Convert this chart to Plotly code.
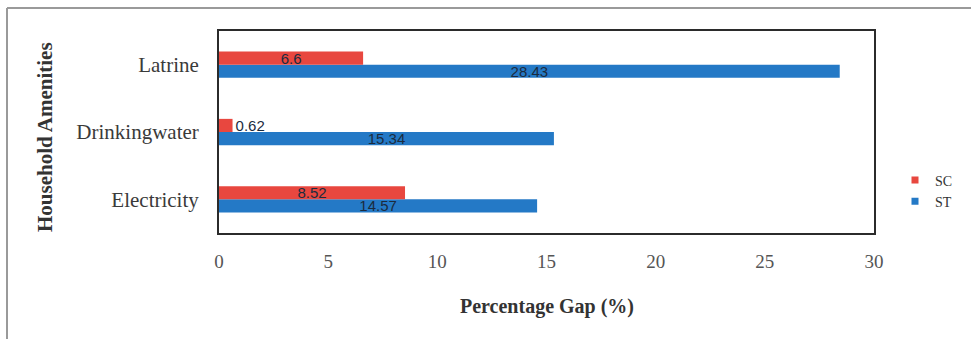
import plotly.graph_objects as go

# Household amenities and percentage gaps for SC and ST households
amenities = ["Electricity", "Drinkingwater", "Latrine"]
sc_gap = [8.52, 0.62, 6.6]
st_gap = [14.57, 15.34, 28.43]
x_ticks = [0, 5, 10, 15, 20, 25, 30]

SC_COLOR = "#E8473F"
ST_COLOR = "#2479C6"
SERIF = "Liberation Serif, Times New Roman, serif"
LABEL_FONT = dict(family="Liberation Sans, Arial, sans-serif", size=15, color="#1B2B3E")


def label_positions(values, limit=2):
    return ["outside" if v < limit else "inside" for v in values]


fig = go.Figure()
fig.add_trace(go.Bar(
    y=amenities, x=st_gap, orientation="h", name="ST", showlegend=False,
    marker=dict(color=ST_COLOR, line=dict(width=0)),
    text=[f"{v:g}" for v in st_gap], textposition=label_positions(st_gap),
    insidetextanchor="middle", textfont=LABEL_FONT, constraintext="none",
    cliponaxis=False,
))
fig.add_trace(go.Bar(
    y=amenities, x=sc_gap, orientation="h", name="SC", showlegend=False,
    marker=dict(color=SC_COLOR, line=dict(width=0)),
    text=[f"{v:g}" for v in sc_gap], textposition=label_positions(sc_gap),
    insidetextanchor="middle", textfont=LABEL_FONT, constraintext="none",
    cliponaxis=False,
))

# Small square legend keys
for name, color in (("SC", SC_COLOR), ("ST", ST_COLOR)):
    fig.add_trace(go.Scatter(
        x=[None], y=[None], mode="markers", name=name,
        marker=dict(symbol="square", size=7, color=color),
    ))

L, R, T, B = 219, 97, 31, 106
W, H = 971, 339
pw, ph = W - L - R, H - T - B


def px_x(p):
    return (p - L) / pw


def px_y(p):
    return (H - B - p) / ph


fig.update_layout(
    width=W, height=H,
    margin=dict(l=L, r=R, t=T, b=B, pad=0, autoexpand=False),
    paper_bgcolor="white", plot_bgcolor="white",
    barmode="group", bargap=0.61, bargroupgap=0,
    showlegend=True,
    legend=dict(
        x=px_x(895), y=px_y(191), xanchor="left", yanchor="middle",
        font=dict(family=SERIF, size=14, color="#333333"),
        itemwidth=30, tracegroupgap=0, bgcolor="rgba(0,0,0,0)",
    ),
    xaxis=dict(
        range=[0, 30], tickvals=x_ticks, showgrid=False, zeroline=False,
        showline=True, mirror=True, linecolor="#2B2B2B", linewidth=2,
        ticks="", ticklabelstandoff=10,
        tickfont=dict(family=SERIF, size=19, color="#555555"),
    ),
    yaxis=dict(
        showgrid=False, zeroline=False, showline=True, mirror=True,
        linecolor="#2B2B2B", linewidth=2, ticks="", ticklabelstandoff=14,
        tickfont=dict(family=SERIF, size=21, color="#3A3A3A"),
    ),
    annotations=[
        dict(text="<b>Percentage Gap (%)</b>", xref="paper", yref="paper",
             x=px_x(547), y=px_y(306), xanchor="center", yanchor="middle",
             showarrow=False,
             font=dict(family=SERIF, size=20, color="#333333")),
        dict(text="<b>Household Amenities</b>", xref="paper", yref="paper",
             x=px_x(45), y=px_y(137), xanchor="center", yanchor="middle",
             textangle=-90, showarrow=False,
             font=dict(family=SERIF, size=21, color="#333333")),
    ],
    shapes=[
        dict(type="line", xref="paper", yref="paper",
             x0=px_x(7), x1=px_x(W), y0=px_y(8), y1=px_y(8),
             line=dict(color="#9A9A9A", width=2)),
        dict(type="line", xref="paper", yref="paper",
             x0=px_x(7), x1=px_x(7), y0=px_y(8), y1=px_y(H),
             line=dict(color="#9A9A9A", width=2)),
    ],
)

fig.write_html("out.html")
